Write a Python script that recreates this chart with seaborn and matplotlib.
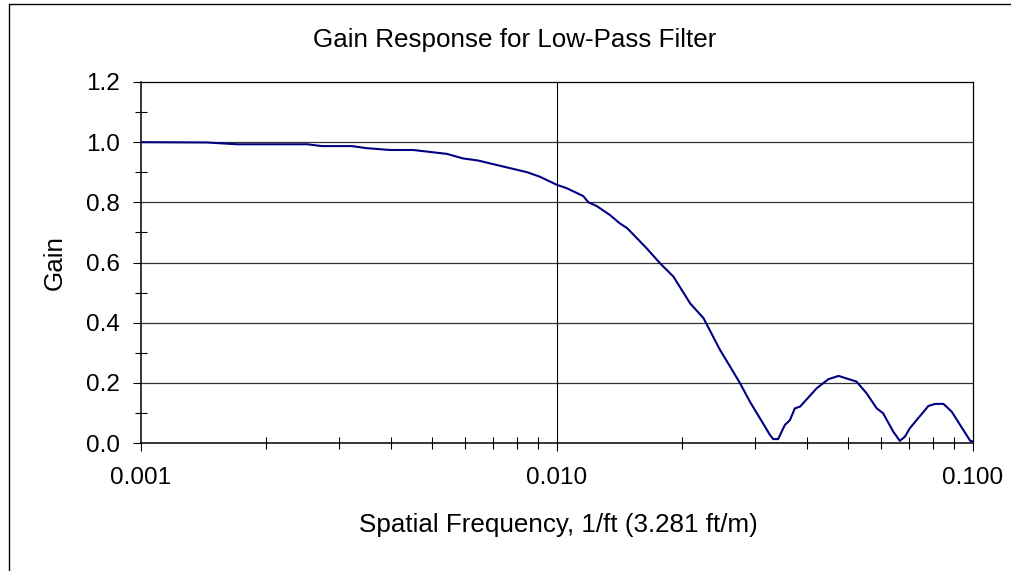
import matplotlib
matplotlib.use("Agg")
import matplotlib.pyplot as plt
import matplotlib.ticker as mticker
from matplotlib.lines import Line2D
import numpy as np
import pandas as pd
import seaborn as sns

# Spatial frequency (1/ft) and filter gain
freq = [0.00100, 0.00144, 0.00170, 0.00251, 0.00272, 0.00321, 0.00349, 0.00397,
        0.00451, 0.00544, 0.00594, 0.00646, 0.00717, 0.00848, 0.00910, 0.01000,
        0.01055, 0.01156, 0.01190, 0.01245, 0.01340, 0.01416, 0.01475, 0.01643,
        0.01770, 0.01905, 0.02090, 0.02250, 0.02466, 0.02607, 0.02756, 0.02910,
        0.03250, 0.03310, 0.03400, 0.03530, 0.03630, 0.03730, 0.03840, 0.04210,
        0.04490, 0.04750, 0.05250, 0.05550, 0.05870, 0.06080, 0.06430, 0.06670,
        0.06860, 0.07050, 0.07810, 0.08110, 0.08490, 0.08890, 0.09480, 0.09850,
        0.10000]
gain = [1.000, 0.999, 0.993, 0.993, 0.987, 0.987, 0.980, 0.974,
        0.974, 0.961, 0.946, 0.939, 0.924, 0.900, 0.885, 0.858,
        0.847, 0.821, 0.800, 0.788, 0.758, 0.730, 0.714, 0.647,
        0.597, 0.553, 0.464, 0.415, 0.309, 0.254, 0.198, 0.137,
        0.027, 0.013, 0.013, 0.060, 0.076, 0.115, 0.121, 0.182,
        0.212, 0.223, 0.204, 0.165, 0.115, 0.099, 0.038, 0.007,
        0.021, 0.049, 0.123, 0.130, 0.130, 0.104, 0.043, 0.007,
        0.005]

x_ticks = [0.001, 0.01, 0.1]
y_ticks = [0.0, 0.2, 0.4, 0.6, 0.8, 1.0, 1.2]

title = "Gain Response for Low-Pass Filter"
x_label = "Spatial Frequency, 1/ft (3.281 ft/m)"
y_label = "Gain"

sns.set_style("white")
plt.rcParams["font.family"] = ["Liberation Sans", "DejaVu Sans"]
plt.rcParams["text.color"] = "black"
plt.rcParams["axes.labelcolor"] = "black"
FS_TICK = 17.5
FS_TEXT = 18.7

df = pd.DataFrame({"freq": freq, "gain": gain})

fig = plt.figure(figsize=(10.12, 5.71), dpi=100)
ax = fig.add_axes([141 / 1012, 1 - 443 / 571, 832 / 1012, 361 / 571])

sns.lineplot(data=df, x="freq", y="gain", ax=ax, color="#000080",
             linewidth=1.5, sort=False, zorder=3)

ax.set_xscale("log")
ax.set_xlim(0.001, 0.1)
ax.set_ylim(0, 1.2)

ax.xaxis.set_major_locator(mticker.FixedLocator(x_ticks))
ax.xaxis.set_major_formatter(mticker.FuncFormatter(lambda v, p: f"{v:.3f}"))
ax.xaxis.set_minor_locator(mticker.LogLocator(base=10, subs=np.arange(2, 10)))
ax.xaxis.set_minor_formatter(mticker.NullFormatter())

ax.yaxis.set_major_locator(mticker.FixedLocator(y_ticks))
ax.yaxis.set_major_formatter(mticker.FuncFormatter(lambda v, p: f"{v:.1f}"))
ax.yaxis.set_minor_locator(mticker.MultipleLocator(0.1))

ax.tick_params(axis="both", which="both", bottom=True, left=True,
               top=False, right=False)
ax.tick_params(axis="both", which="major", direction="out", length=6,
               width=0.8, color="black", labelsize=FS_TICK, labelcolor="black")
ax.tick_params(axis="x", which="major", pad=11)
ax.tick_params(axis="y", which="major", pad=9)
ax.tick_params(axis="both", which="minor", direction="inout", length=8.5,
               width=0.8, color="black")

ax.grid(False)
for v in y_ticks[1:-1]:
    ax.axhline(v, color="#333333", linewidth=0.9, zorder=1)
ax.axvline(0.01, color="black", linewidth=0.8, zorder=1)

for side in ["left", "bottom"]:
    ax.spines[side].set_color("black")
    ax.spines[side].set_linewidth(1.1)
for side in ["top", "right"]:
    ax.spines[side].set_color("black")
    ax.spines[side].set_linewidth(0.9)
    ax.spines[side].set_visible(True)

ax.set_xlabel(x_label, fontsize=FS_TEXT, va="center", ha="center")
ax.xaxis.set_label_coords((558 - 141) / 832, (443 - 525) / 361)
ax.set_ylabel(y_label, fontsize=FS_TEXT, va="center", ha="center")
ax.yaxis.set_label_coords((55 - 141) / 832, 0.5)

fig.text(515 / 1012, 1 - 40 / 571, title, fontsize=FS_TEXT,
         ha="center", va="center")

# chart-area border
fig.add_artist(Line2D([9 / 1012, 9 / 1012], [0, 1 - 4 / 571],
                      transform=fig.transFigure, color="black", linewidth=1.0))
fig.add_artist(Line2D([9 / 1012, 1], [1 - 4 / 571, 1 - 4 / 571],
                      transform=fig.transFigure, color="black", linewidth=1.0))

fig.savefig("out.png", dpi=100, facecolor="white")
